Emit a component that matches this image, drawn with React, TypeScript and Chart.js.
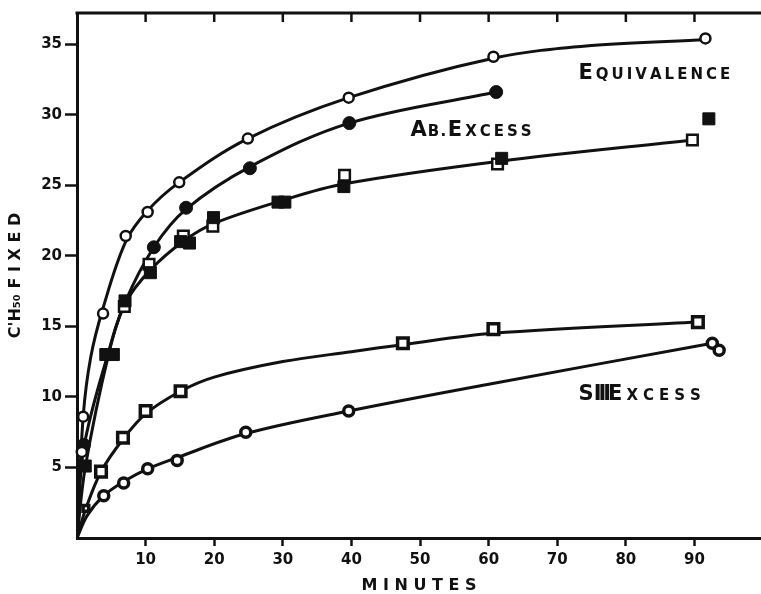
import React, { useEffect, useRef } from "react";
import { Chart, registerables } from "chart.js";

Chart.register(...registerables);

// ---- axis ticks ----
const X_TICKS = [10, 20, 30, 40, 50, 60, 70, 80, 90];
const Y_TICKS = [5, 10, 15, 20, 25, 30, 35];
const X_MAX = 99.7;
const Y_MAX = 37.2;

// ---- Equivalence (open circles) ----
const EQ_X = [0.7, 0.9, 3.8, 7.1, 10.3, 14.9, 24.9, 39.6, 60.7, 91.6];
const EQ_Y = [6.1, 8.6, 15.9, 21.4, 23.1, 25.2, 28.3, 31.2, 34.1, 35.4];
const EQ_CURVE_X = [0, 0.9, 2.0, 3.8, 7.1, 10.3, 14.9, 24.9, 39.6, 60.7, 75.0, 91.6];
const EQ_CURVE_Y = [0, 8.6, 12.8, 16.3, 21.0, 23.2, 25.2, 28.3, 31.2, 34.0, 34.9, 35.3];

// ---- Ab excess (filled circles) ----
const ABC_X = [1.0, 11.2, 15.9, 25.2, 39.7, 61.1];
const ABC_Y = [6.6, 20.6, 23.4, 26.2, 29.4, 31.6];
const ABC_CURVE_X = [0, 1.0, 4.6, 7.0, 11.2, 15.9, 25.2, 39.7, 61.1];
const ABC_CURVE_Y = [0, 6.4, 13.2, 16.7, 20.6, 23.3, 26.3, 29.4, 31.6];

// ---- Ab excess (squares) ----
const ABS_FILLED_X = [1.2, 4.2, 5.3, 7.0, 10.7, 15.1, 16.4, 19.9, 29.3, 30.3, 38.9, 61.9, 92.1];
const ABS_FILLED_Y = [5.1, 13.0, 13.0, 16.8, 18.8, 21.0, 20.9, 22.7, 23.8, 23.8, 24.9, 26.9, 29.7];
const ABS_OPEN_X = [6.9, 10.5, 15.5, 19.8, 39.0, 61.3, 89.7];
const ABS_OPEN_Y = [16.4, 19.4, 21.4, 22.1, 25.7, 26.5, 28.2];
const ABS_CURVE_X = [0, 1.2, 4.6, 7.0, 10.7, 15.7, 20.0, 29.8, 39.0, 61.6, 89.7];
const ABS_CURVE_Y = [0, 5.0, 13.0, 16.6, 19.0, 21.1, 22.3, 23.9, 25.1, 26.7, 28.2];

// ---- SIII excess (squares) ----
const S3S_X = [1.3, 3.5, 6.7, 10.0, 15.1, 47.5, 60.7, 90.5];
const S3S_Y = [2.1, 4.7, 7.1, 9.0, 10.4, 13.8, 14.8, 15.3];
const S3S_CURVE_X = [0, 1.3, 3.5, 6.7, 10.0, 15.1, 20.0, 30.0, 40.0, 47.5, 60.7, 90.5];
const S3S_CURVE_Y = [0, 2.1, 4.7, 7.0, 8.8, 10.4, 11.4, 12.5, 13.2, 13.7, 14.5, 15.3];

// ---- SIII excess (circles) ----
const S3C_X = [3.9, 6.8, 10.3, 14.6, 24.6, 39.6, 92.6, 93.6];
const S3C_Y = [3.0, 3.9, 4.9, 5.5, 7.5, 9.0, 13.8, 13.3];
const S3C_CURVE_X = [0, 1.5, 3.9, 6.8, 10.3, 14.6, 24.6, 39.6, 60.0, 92.6];
const S3C_CURVE_Y = [0, 1.6, 3.0, 4.0, 4.9, 5.7, 7.4, 9.0, 10.9, 13.8];

// ---- curve labels (text + anchor in data units) ----
type Seg = { t: string; big: boolean; sp: number };
const LABELS: { x: number; y: number; segs: Seg[] }[] = [
  {
    x: 73.1,
    y: 32.5,
    segs: [
      { t: "E", big: true, sp: 3 },
      { t: "QUIVALENCE", big: false, sp: 3 },
    ],
  },
  {
    x: 48.6,
    y: 28.5,
    segs: [
      { t: "A", big: true, sp: 1 },
      { t: "B.", big: false, sp: 1.5 },
      { t: "E", big: true, sp: 3 },
      { t: "XCESS", big: false, sp: 3 },
    ],
  },
  {
    x: 73.1,
    y: 9.75,
    segs: [
      { t: "S", big: true, sp: 0 },
      { t: "III", big: true, sp: -3 },
      { t: "E", big: true, sp: 4 },
      { t: "XCESS", big: false, sp: 5 },
    ],
  },
];

const INK = "#111";
const FONT = '"DejaVu Sans", sans-serif';

const zip = (xs: number[], ys: number[]) => xs.map((x, i) => ({ x, y: ys[i] }));

const curve = (xs: number[], ys: number[]) => ({
  data: zip(xs, ys),
  showLine: true,
  borderColor: INK,
  borderWidth: 3,
  pointRadius: 0,
  tension: 0.35,
  fill: false,
  order: 2,
});

const markers = (
  xs: number[],
  ys: number[],
  style: string,
  radius: number | number[],
  fillColor: string,
  borderW: number
) => ({
  data: zip(xs, ys),
  showLine: false,
  pointStyle: style,
  pointRadius: radius,
  pointBackgroundColor: fillColor,
  pointBorderColor: INK,
  pointBorderWidth: borderW,
  order: 1,
  clip: false as const,
});

const framePlugin = {
  id: "frame",
  afterDraw(chart: any) {
    const { ctx, chartArea, scales } = chart;
    const w = chart.width;
    ctx.save();
    ctx.strokeStyle = INK;
    ctx.lineWidth = 3;
    ctx.beginPath();
    ctx.moveTo(chartArea.left - 1.5, chartArea.top);
    ctx.lineTo(w, chartArea.top);
    ctx.stroke();
    ctx.lineWidth = 2.5;
    for (const v of X_TICKS) {
      const px = scales.x.getPixelForValue(v);
      ctx.beginPath();
      ctx.moveTo(px, chartArea.top);
      ctx.lineTo(px, chartArea.top + 9);
      ctx.stroke();
    }
    // labels
    ctx.fillStyle = INK;
    ctx.textBaseline = "alphabetic";
    ctx.textAlign = "left";
    for (const lab of LABELS) {
      let cx = scales.x.getPixelForValue(lab.x);
      const cy = scales.y.getPixelForValue(lab.y);
      for (const s of lab.segs) {
        ctx.font = `bold ${s.big ? 21 : 15}px ${FONT}`;
        for (const ch of s.t) {
          ctx.fillText(ch, cx, cy);
          cx += ctx.measureText(ch).width + s.sp;
        }
      }
    }
    ctx.restore();
  },
};

export default function App() {
  const ref = useRef<HTMLCanvasElement | null>(null);

  useEffect(() => {
    if (!ref.current) return;
    const chart = new Chart(ref.current, {
      type: "scatter",
      data: {
        datasets: [
          markers(EQ_X, EQ_Y, "circle", 5, "#fff", 2.5),
          markers(ABC_X, ABC_Y, "circle", 6.5, INK, 1),
          markers(ABS_FILLED_X, ABS_FILLED_Y, "rect", 8.5, INK, 1),
          markers(ABS_OPEN_X, ABS_OPEN_Y, "rect", 7.5, "#fff", 2.5),
          markers(S3S_X, S3S_Y, "rect", [4, 7.5, 7.5, 7.5, 7.5, 7.5, 7.5, 7.5], "#fff", 3.5),
          markers(S3C_X, S3C_Y, "circle", 5, "#fff", 3.5),
          curve(EQ_CURVE_X, EQ_CURVE_Y),
          curve(ABC_CURVE_X, ABC_CURVE_Y),
          curve(ABS_CURVE_X, ABS_CURVE_Y),
          curve(S3S_CURVE_X, S3S_CURVE_Y),
          curve(S3C_CURVE_X, S3C_CURVE_Y),
        ] as any,
      },
      options: {
        responsive: false,
        maintainAspectRatio: false,
        animation: false,
        layout: { autoPadding: false, padding: { top: 13, right: 0, bottom: 0, left: 0 } },
        plugins: {
          legend: { display: false },
          tooltip: { enabled: false },
        },
        scales: {
          x: {
            type: "linear",
            position: "bottom",
            min: 0,
            max: X_MAX,
            afterBuildTicks: (s: any) => {
              s.ticks = X_TICKS.map((v) => ({ value: v }));
            },
            afterFit: (s: any) => {
              s.height = 56;
              s.paddingRight = 0;
              s.paddingLeft = 0;
            },
            grid: {
              drawOnChartArea: false,
              drawTicks: true,
              tickLength: 8,
              tickWidth: 2.5,
              tickColor: INK,
            },
            border: { display: true, color: INK, width: 3 },
            ticks: {
              color: INK,
              font: { family: FONT, weight: "bold", size: 15 },
              padding: 5,
              maxRotation: 0,
              autoSkip: false,
            },
            title: {
              display: true,
              text: "M I N U T E S",
              color: INK,
              font: { family: FONT, weight: "bold", size: 16, lineHeight: 1 },
              padding: { top: 0, bottom: 0 },
            },
          },
          y: {
            type: "linear",
            min: 0,
            max: Y_MAX,
            afterBuildTicks: (s: any) => {
              s.ticks = Y_TICKS.map((v) => ({ value: v }));
            },
            afterFit: (s: any) => {
              s.width = 77;
              s.paddingTop = 0;
              s.paddingBottom = 0;
            },
            grid: {
              drawOnChartArea: false,
              drawTicks: true,
              tickLength: 12,
              tickWidth: 2.5,
              tickColor: INK,
            },
            border: { display: true, color: INK, width: 3 },
            ticks: {
              color: INK,
              font: { family: FONT, weight: "bold", size: 15 },
              padding: 3,
            },
            title: {
              display: true,
              text: "C'H\u2085\u2080 F I X E D",
              color: INK,
              font: { family: FONT, weight: "bold", size: 16, lineHeight: 1 },
              padding: { top: 8, bottom: 0 },
            },
          },
        },
      } as any,
      plugins: [framePlugin],
    });
    return () => chart.destroy();
  }, []);

  return (
    <div style={{ position: "absolute", left: 0, top: 0, width: 761, height: 594, background: "#fff" }}>
      <canvas ref={ref} width={761} height={594} style={{ display: "block" }} />
    </div>
  );
}
